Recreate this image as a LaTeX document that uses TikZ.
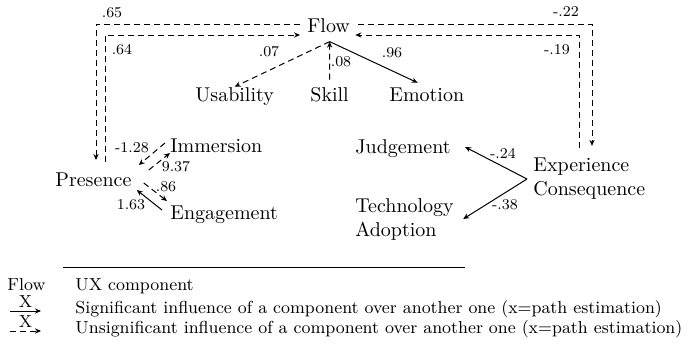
\documentclass[tikz,border=0pt]{standalone}
\usepackage{tikz}
\usetikzlibrary{arrows.meta, positioning, calc}

\tikzset{
  comp/.style={inner sep=0pt, font=\normalsize},
  lbl/.style={inner sep=0pt, font=\fontsize{7.5}{9}\selectfont},
  key/.style={inner sep=0pt, font=\fontsize{8.7}{10.5}\selectfont},
  sig/.style={line width=0.5pt, -{Stealth[length=3pt,width=2.6pt]}},
  unsig/.style={sig, dash pattern=on 3pt off 2pt},
}

\begin{document}
\begin{tikzpicture}[x=0.5pt, y=-0.5pt]
    \useasboundingbox (0,0) rectangle (694,360);

    % UX components
    \node[comp, anchor=base west] (flow) at (307,32) {Flow};
    \node[comp, anchor=base west] (usability) at (195,101) {Usability};
    \node[comp, anchor=base west] (skill) at (310,101) {Skill};
    \node[comp, anchor=base west] (emotion) at (389,101) {Emotion};
    \node[comp, anchor=base west] (immersion) at (170,152) {Immersion};
    \node[comp, anchor=base west] (presence) at (55,186) {Presence};
    \node[comp, anchor=base west] (engagement) at (170,219) {Engagement};
    \node[comp, anchor=base west] (judgement) at (355,153) {Judgement};
    \node[comp, anchor=west, align=left] (techad) at (355,219) {Technology\\Adoption};
    \node[comp, anchor=west, align=left] (expcons) at (533,179) {Experience\\Consequence};

    \coordinate (hub) at ($(flow.south)+(1,9)$);

    % Flow and its three parts
    \draw[unsig] (hub) -- (usability.north);
    \draw[unsig, shorten <=3.5pt] (skill.north) -- (hub);
    \draw[sig, shorten >=5pt] (hub) -- (emotion.north);

    % Flow <-> Presence
    \draw[unsig] ($(flow.base west)+(-7,-8)$) -| ($(presence.base west)+(41,-26)$);
    \draw[unsig] ($(presence.base west)+(50,-24)$) |- ($(flow.base west)+(-7,3)$);

    % Flow <-> Experience Consequence
    \draw[unsig] ($(flow.base east)+(8,-8)$) -| ($(expcons.north west)+(59,-12)$);
    \draw[unsig] ($(expcons.north west)+(46,-10)$) |- ($(flow.base east)+(5,3)$);

    % Presence and its parts
    \draw[unsig] ($(immersion.base west)+(-5,-9)$) -- ($(presence.base east)+(7,-21)$);
    \draw[unsig] ($(presence.base east)+(17,-16)$) -- ($(immersion.base west)+(0,1)$);
    \draw[unsig] ($(presence.base east)+(12,-3)$) -- ($(engagement.base west)+(-3,-18)$);
    \draw[sig] ($(engagement.base west)+(-8,-9)$) -- ($(presence.base east)+(5,4)$);

    % Experience Consequence and its parts
    \draw[sig] ([xshift=-3pt]expcons.west) -- ($(judgement.base east)+(14,-6)$);
    \draw[sig] ([xshift=-3pt]expcons.west) -- ([xshift=4.5pt]techad.east);

    % path estimations
    \node[lbl] (l65) at (112,13) {.65};
    \node[lbl] (l64) at (122,50) {.64};
    \node[lbl] (l07) at (269,52) {.07};
    \node[lbl] (l08) at (341,62) {.08};
    \node[lbl] (l96) at (392,53) {.96};
    \node[lbl] (l22) at (566,12) {-.22};
    \node[lbl] (l19) at (557,50) {-.19};
    \node[lbl] (l128) at (132,148) {-1.28};
    \node[lbl] (l937) at (176,167) {9.37};
    \node[lbl] (l86) at (166,187) {.86};
    \node[lbl] (l163) at (131,205) {1.63};
    \node[lbl] (l24) at (503,153) {-.24};
    \node[lbl] (l38) at (505,205) {-.38};

    % Legend
    \coordinate (ruleL) at (63,267);
    \coordinate (ruleR) at (465,267);
    \draw[line width=0.5pt] (ruleL) -- (ruleR);
    \node[key, anchor=base west] (kflow) at (7,290) {Flow};
    \node[key, anchor=base west] (kux) at (75,290) {UX component};
    \coordinate (ks1) at (10,311);
    \coordinate (ke1) at (41,311);
    \draw[sig] (ks1) -- (ke1) node[key, midway, above=1.5pt] (kx1) {X};
    \node[key, anchor=base west] (ksig) at (75,313) {Significant influence of a component over another one (x=path estimation)};
    \coordinate (ks2) at (10,331);
    \coordinate (ke2) at (41,331);
    \draw[unsig] (ks2) -- (ke2) node[key, midway, above=1.5pt] (kx2) {X};
    \node[key, anchor=base west] (kunsig) at (75,333) {Unsignificant influence of a component over another one (x=path estimation)};
\end{tikzpicture}
\end{document}
